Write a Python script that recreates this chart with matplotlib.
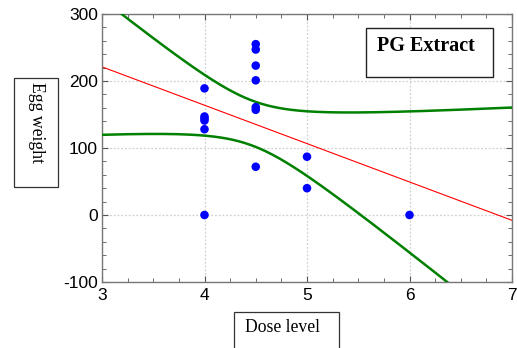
import numpy as np
import matplotlib
matplotlib.use("Agg")
from matplotlib import pyplot as plt
from matplotlib.ticker import MultipleLocator

plt.rcParams["axes.unicode_minus"] = False

# Data
dose = [4, 4, 4, 4, 4, 4,
        4.5, 4.5, 4.5, 4.5, 4.5, 4.5, 4.5,
        5, 5,
        6]
egg_weight = [189, 147, 144, 141, 128, 0,
              255, 247, 223, 201, 161, 157, 72,
              87, 40,
              0]
x_ticks = [3, 4, 5, 6, 7]
y_ticks = [-100, 0, 100, 200, 300]

x = np.array(dose, dtype=float)
y = np.array(egg_weight, dtype=float)

# linear fit + 90% confidence band for the mean
n = len(x)
slope, intercept = np.polyfit(x, y, 1)
resid = y - (intercept + slope * x)
s = np.sqrt(np.sum(resid ** 2) / (n - 2))
sxx = np.sum((x - x.mean()) ** 2)
t_val = 1.761  # t(0.95, df=14)

xs = np.linspace(3, 7, 300)
fit = intercept + slope * xs
half = t_val * s * np.sqrt(1.0 / n + (xs - x.mean()) ** 2 / sxx)

fig = plt.figure(figsize=(5.17, 3.48), dpi=100)
ax = fig.add_axes([102 / 517, 1 - 282 / 348, 410 / 517, 268 / 348])

ax.plot(xs, fit, color="red", lw=0.8, zorder=2)
ax.plot(xs, fit + half, color="green", lw=1.8, zorder=3)
ax.plot(xs, fit - half, color="green", lw=1.8, zorder=3)
ax.scatter(x, y, s=38, color="blue", zorder=4, edgecolors="none")

ax.set_xlim(3, 7)
ax.set_ylim(-100, 300)
ax.set_xticks(x_ticks)
ax.set_yticks(y_ticks)
ax.xaxis.set_minor_locator(MultipleLocator(0.25))
ax.yaxis.set_minor_locator(MultipleLocator(20))
ax.tick_params(which="both", direction="in", top=True, right=True,
               color="#555555", labelsize=12.5)
ax.tick_params(axis="x", pad=4)
ax.tick_params(axis="y", pad=3)
ax.tick_params(which="major", length=4)
ax.tick_params(which="minor", length=3)
for lbl in ax.get_xticklabels() + ax.get_yticklabels():
    lbl.set_fontfamily("Liberation Sans")
for sp in ax.spines.values():
    sp.set_color("#777777")
    sp.set_linewidth(1.0)
ax.grid(True, which="major", color="#d0d0d0", linestyle=(0, (1.5, 1.5)), lw=0.9)

# boxed labels
ylab_box = plt.Rectangle((14 / 517, 1 - 187 / 348), 44 / 517, 109 / 348,
                         transform=fig.transFigure, facecolor="white",
                         edgecolor="#333333", lw=0.9)
fig.patches.append(ylab_box)
fig.text(36 / 517, 1 - 82 / 348, "Egg weight", rotation=-90, ha="center", va="top",
         fontsize=12.7, family="Liberation Serif")

xlab_box = plt.Rectangle((234 / 517, -0.05), 105 / 517, 0.05 + 36 / 348,
                         transform=fig.transFigure, facecolor="white",
                         edgecolor="#333333", lw=0.9)
fig.patches.append(xlab_box)
fig.text(245 / 517, 1 - 327 / 348, "Dose level", ha="left", va="center",
         fontsize=12.7, family="Liberation Serif")

leg_box = plt.Rectangle((366 / 517, 1 - 77 / 348), 127 / 517, 49 / 348,
                        transform=fig.transFigure, facecolor="white",
                        edgecolor="#222222", lw=1.0, zorder=5)
fig.patches.append(leg_box)
fig.text(377 / 517, 1 - 46 / 348, "PG Extract", ha="left", va="center",
         fontsize=14.5, fontweight="bold", family="Liberation Serif", zorder=6)

fig.savefig("out.png", dpi=100)
